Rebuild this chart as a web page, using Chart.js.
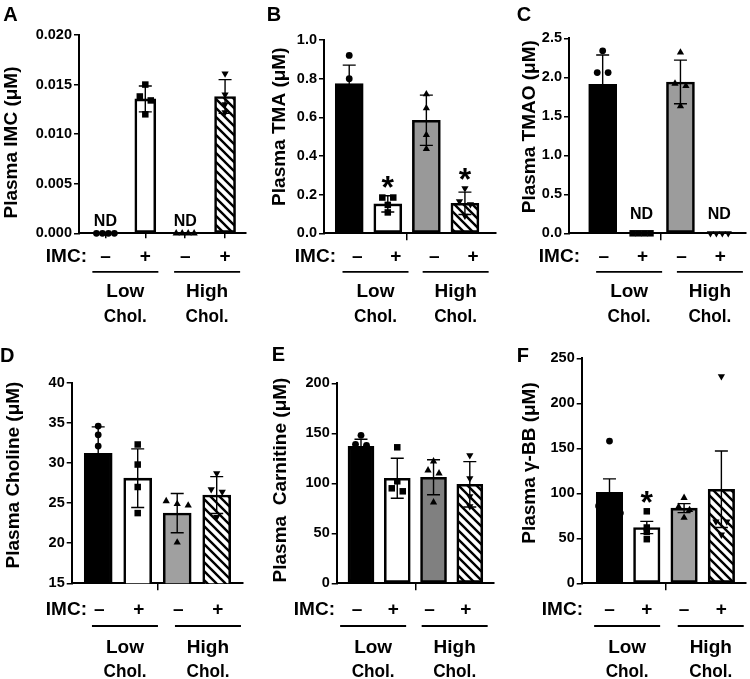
<!DOCTYPE html>
<html>
<head>
<meta charset="utf-8">
<script src="https://cdn.jsdelivr.net/npm/chart.js@4.4.1/dist/chart.umd.min.js"></script>
<style>
  html, body { margin: 0; padding: 0; background: #fff; }
  #fig { position: relative; width: 750px; height: 679px; overflow: hidden; }
  #fig canvas { position: absolute; }
</style>
</head>
<body>
<div id="fig"></div>
<script>
/* eslint-disable no-undef */

// x categories: IMC treatment within each cholesterol diet
const imcSigns = ['–', '+', '–', '+']
const cholGroups = ['Low', 'High']

// A - plasma IMC (ND = not detected)
const imcMean = [null, 0.01355, null, 0.0138]
const imcSd = [null, 0.0013, null, 0.0017]
const imcPts = [
  [0, 0, 0, 0],
  [0.0150, 0.0138, 0.0134, 0.0120],
  [0, 0, 0, 0],
  [0.0161, 0.0140, 0.0130, 0.0122]
]

// B - plasma TMA
const tmaMean = [0.775, 0.152, 0.585, 0.155]
const tmaSd = [0.095, 0.042, 0.13, 0.058]
const tmaPts = [
  [0.92, 0.80, 0.72, 0.66],
  [0.185, 0.185, 0.147, 0.108],
  [0.72, 0.647, 0.509, 0.436],
  [0.233, 0.165, 0.15, 0.09]
]
const tmaSig = [false, true, false, true]

// C - plasma TMAO
const tmaoMean = [1.91, null, 1.94, null]
const tmaoSd = [0.375, null, 0.28, null]
const tmaoPts = [
  [2.34, 2.06, 2.06, 1.18],
  [0, 0, 0, 0],
  [2.32, 1.92, 1.89, 1.63],
  [0, 0, 0, 0]
]

// D - plasma choline
const cholineMean = [31.2, 28.1, 23.75, 26.0]
const cholineSd = [3.3, 3.65, 2.45, 2.3]
const cholinePts = [
  [34.6, 33.5, 32.1, 24.6],
  [32.3, 29.8, 27.0, 23.75],
  [25.25, 24.9, 24.7, 20.1],
  [28.7, 26.7, 26.4, 23.25]
]

// E - plasma carnitine
const carnMean = [137, 105, 106, 99]
const carnSd = [7, 20, 17.5, 22.7]
const carnPts = [
  [148, 139, 138, 123],
  [136, 102, 95, 92],
  [122, 113, 110, 81],
  [128, 105, 87, 77]
]

// F - plasma gamma-butyrobetaine
const bbMean = [101, 62, 83.5, 104.5]
const bbSem = [15, 6.8, 5, 42.5]
const bbPts = [
  [158, 86, 82, 78],
  [80, 62, 57, 49],
  [95, 85, 81.5, 73],
  [230, 68.5, 68.5, 54]
]
const bbSig = [false, true, false, false]

const noSig = [false, false, false, false]

const FONT = '"Liberation Sans", Arial, Helvetica, sans-serif'
Chart.defaults.font.family = FONT
Chart.defaults.color = '#000'

const topRow = { imc: 28.8, line: 38.5, low: 25, chol: 50 }
const bottomRow = { imc: 31.8, line: 42.7, low: 27.3, chol: 50.7 }

const panels = [
  {
    letter: 'A', title: 'Plasma IMC (μM)', mean: imcMean, err: imcSd, pts: imcPts, sig: noSig,
    y: [0, 0.02, 0.005, 3], x: [0.3375, 4.51], gray: '#9c9c9c', barW: 21,
    box: [0, 0, 250, 340], area: [79, 35, 246, 233.3], xTicks: [1, 2, 3, 4], tickLen: 5,
    titleAt: [11.7, 142.5], letterAt: [3.3, 20.7], imcRight: 87, signDx: 0, lineDx: [0, 2],
    ndGap: 12, row: topRow
  },
  {
    letter: 'B', title: 'Plasma TMA (μM)', mean: tmaMean, err: tmaSd, pts: tmaPts, sig: tmaSig,
    y: [0, 1, 0.2, 1], x: [0.346, 4.79], gray: '#999999', barW: 28,
    box: [250, 0, 250, 340], area: [324, 40, 496, 233.3], xTicks: [2.5], tickLen: 7,
    titleAt: [30, 126.7], letterAt: [16.7, 20.7], imcRight: 86, signDx: 8, lineDx: [7, 10],
    ndGap: 12, row: topRow
  },
  {
    letter: 'C', title: 'Plasma TMAO (μM)', mean: tmaoMean, err: tmaoSd, pts: tmaoPts, sig: noSig,
    y: [0, 2.5, 0.5, 1], x: [0.134, 4.67], gray: '#9c9c9c', barW: 28,
    box: [500, 0, 250, 340], area: [569, 38.3, 747, 233.3], xTicks: [2.5], tickLen: 7,
    titleAt: [30, 126.7], letterAt: [16.7, 20.7], imcRight: 80, signDx: 1, lineDx: [7, 10],
    ndGap: 19, row: topRow
  },
  {
    letter: 'D', title: 'Plasma Choline (μM)', mean: cholineMean, err: cholineSd, pts: cholinePts, sig: noSig,
    y: [15, 40, 5, 0], x: [0.329, 4.658], gray: '#a0a0a0', barW: 28,
    box: [0, 340, 250, 339], area: [71.7, 382.7, 242.7, 583.3], xTicks: [2.5], tickLen: 7,
    titleAt: [13.3, 135], letterAt: [0, 21.7], imcRight: 87, signDx: 1, lineDx: [7, 11],
    ndGap: 12, row: bottomRow
  },
  {
    letter: 'E', title: 'Plasma  Carnitine (μM)', mean: carnMean, err: carnSd, pts: carnPts, sig: noSig,
    y: [0, 200, 50, 0], x: [0.33, 4.648], gray: '#808080', barW: 26,
    box: [250, 340, 250, 339], area: [336.7, 383.3, 493.3, 583.3], xTicks: [2.5], tickLen: 7,
    titleAt: [30.5, 140], letterAt: [21.7, 21], imcRight: 85, signDx: -4, lineDx: [-6, 3],
    ndGap: 12, row: bottomRow
  },
  {
    letter: 'F', title: 'Plasma γ-BB (μM)', mean: bbMean, err: bbSem, pts: bbPts, sig: bbSig,
    y: [0, 250, 50, 0], x: [0.255, 4.644], gray: '#a2a2a2', barW: 26.5,
    box: [500, 340, 250, 339], area: [581.7, 358.3, 746.7, 583.3], xTicks: [2.5], tickLen: 7,
    titleAt: [30, 123], letterAt: [16.7, 21.7], imcRight: 83, signDx: 0, lineDx: [-1, 8],
    ndGap: 12, row: bottomRow
  }
]

const shapes = ['circle', 'rect', 'triangle', 'triangle']
const shapeRot = [0, 0, 0, 180]
const shapeSize = [3.4, 4.6, 4.2, 4.2]

function makeHatch() {
  const c = document.createElement('canvas')
  c.width = 9
  c.height = 9
  const g = c.getContext('2d')
  g.fillStyle = '#fff'
  g.fillRect(0, 0, 9, 9)
  g.strokeStyle = '#000'
  g.lineWidth = 2.4
  g.beginPath()
  for (const o of [-9, 0, 9]) {
    g.moveTo(o - 1, -1)
    g.lineTo(o + 10, 10)
  }
  g.stroke()
  return g.createPattern(c, 'repeat')
}
const hatch = makeHatch()

// spread points of near-equal value side by side, like a column scatter
function spread(vals, center, pxPerY, pxPerX) {
  const order = vals.map((v, i) => i).sort((a, b) => vals[b] - vals[a])
  const out = []
  let cluster = []
  const flush = () => {
    const gap = cluster.length > 3 ? 6 : 11
    cluster.forEach((idx, k) => {
      const dx = (k - (cluster.length - 1) / 2) * gap
      out.push({ x: center + dx / pxPerX, y: vals[idx] })
    })
    cluster = []
  }
  order.forEach((idx) => {
    const last = cluster[cluster.length - 1]
    if (cluster.length && (vals[last] - vals[idx]) * pxPerY > 4) flush()
    cluster.push(idx)
  })
  flush()
  return out
}

const bold = (s) => `bold ${s}px ${FONT}`

function makeOverlay(p) {
  return {
    id: 'overlay' + p.letter,
    afterDatasetDraw(chart, args) {
      if (args.meta.type !== 'bar') return
      const { ctx, scales: { x, y } } = chart
      ctx.save()
      ctx.strokeStyle = '#000'
      ctx.lineWidth = 1.4
      p.mean.forEach((m, i) => {
        if (m === null) return
        const cx = x.getPixelForValue(i + 1)
        const top = y.getPixelForValue(m + p.err[i])
        const bot = y.getPixelForValue(Math.max(m - p.err[i], p.y[0]))
        ctx.beginPath()
        ctx.moveTo(cx, top)
        ctx.lineTo(cx, bot)
        ctx.moveTo(cx - 6.5, top)
        ctx.lineTo(cx + 6.5, top)
        ctx.moveTo(cx - 6.5, bot)
        ctx.lineTo(cx + 6.5, bot)
        ctx.stroke()
      })
      ctx.restore()
    },
    afterDraw(chart) {
      const { ctx, chartArea, scales: { x, y } } = chart
      ctx.save()
      ctx.fillStyle = '#000'
      ctx.strokeStyle = '#000'

      // panel letter
      ctx.font = bold(20)
      ctx.textAlign = 'left'
      ctx.textBaseline = 'alphabetic'
      ctx.fillText(p.letter, p.letterAt[0], p.letterAt[1])

      // y axis title
      ctx.save()
      ctx.translate(p.titleAt[0], p.titleAt[1])
      ctx.rotate(-Math.PI / 2)
      ctx.font = bold(19)
      ctx.textAlign = 'center'
      ctx.textBaseline = 'middle'
      ctx.fillText(p.title, 0, 0)
      ctx.restore()

      // ND labels and significance stars
      p.mean.forEach((m, i) => {
        const cx = x.getPixelForValue(i + 1)
        if (m === null) {
          ctx.font = bold(16)
          ctx.textAlign = 'center'
          ctx.textBaseline = 'middle'
          ctx.fillText('ND', cx, y.getPixelForValue(0) - p.ndGap)
        } else if (p.sig[i]) {
          const top = Math.max(m + p.err[i], ...p.pts[i])
          const target = y.getPixelForValue(top) - 14
          ctx.font = bold(32)
          ctx.textAlign = 'center'
          ctx.textBaseline = 'alphabetic'
          const mt = ctx.measureText('*')
          const base = target + (mt.actualBoundingBoxAscent - mt.actualBoundingBoxDescent) / 2
          ctx.fillText('*', cx, base)
        }
      })

      // IMC row
      const b = chartArea.bottom
      ctx.font = bold(19)
      ctx.textBaseline = 'alphabetic'
      ctx.textAlign = 'right'
      ctx.fillText('IMC:', p.imcRight, b + p.row.imc)
      ctx.textAlign = 'center'
      imcSigns.forEach((s, i) => {
        ctx.fillText(s, x.getPixelForValue(i + 1) + p.signDx, b + p.row.imc)
      })

      // diet group lines and labels
      ctx.lineWidth = 1.8
      cholGroups.forEach((g, k) => {
        const mid = (x.getPixelForValue(2 * k + 1) + x.getPixelForValue(2 * k + 2)) / 2 + p.lineDx[k]
        const ly = b + p.row.line
        ctx.beginPath()
        ctx.moveTo(mid - 33, ly)
        ctx.lineTo(mid + 33, ly)
        ctx.stroke()
        ctx.fillText(g, mid, ly + p.row.low)
        ctx.fillText('Chol.', mid, ly + p.row.chol, 43)
      })
      ctx.restore()
    }
  }
}

function drawPanel(p) {
  const [bx, by, bw, bh] = p.box
  const [al, at, ar, ab] = p.area
  const canvas = document.createElement('canvas')
  canvas.width = bw
  canvas.height = bh
  canvas.style.left = bx + 'px'
  canvas.style.top = by + 'px'
  document.getElementById('fig').appendChild(canvas)

  const yW = al - bx
  const xH = by + bh - ab
  const pxPerX = (ar - al) / (p.x[1] - p.x[0])
  const pxPerY = (ab - at) / (p.y[1] - p.y[0])
  const fills = ['#000', '#fff', p.gray, hatch]

  const datasets = [
    {
      type: 'bar',
      data: p.mean.map((m, i) => ({ x: i + 1, y: m })),
      backgroundColor: fills,
      borderColor: '#000',
      borderWidth: 2.6,
      borderSkipped: false,
      barThickness: p.barW,
      order: 2
    }
  ]
  p.pts.forEach((vals, i) => {
    datasets.push({
      type: 'scatter',
      data: spread(vals, i + 1, pxPerY, pxPerX),
      pointStyle: shapes[i],
      pointRotation: shapeRot[i],
      pointRadius: shapeSize[i],
      pointBackgroundColor: '#000',
      pointBorderWidth: 0,
      clip: false,
      order: 1
    })
  })

  return new Chart(canvas, {
    type: 'bar',
    data: { datasets },
    options: {
      responsive: false,
      animation: false,
      devicePixelRatio: 1,
      layout: { padding: { left: 0, top: at - by, right: bx + bw - ar, bottom: 0 } },
      plugins: { legend: { display: false }, tooltip: { enabled: false } },
      scales: {
        x: {
          type: 'linear',
          min: p.x[0],
          max: p.x[1],
          offset: false,
          afterBuildTicks: (s) => { s.ticks = p.xTicks.map((v) => ({ value: v })) },
          afterFit: (s) => { s.height = xH },
          ticks: { display: false },
          grid: { offset: false, drawOnChartArea: false, drawTicks: true, tickLength: p.tickLen, color: '#000', lineWidth: 1.5 },
          border: { color: '#000', width: 2 }
        },
        y: {
          min: p.y[0],
          max: p.y[1],
          afterFit: (s) => { s.width = yW },
          ticks: {
            stepSize: p.y[2],
            padding: 2,
            color: '#000',
            font: { size: 14.5, weight: 'bold' },
            callback: (v) => Number(v).toFixed(p.y[3])
          },
          grid: { drawOnChartArea: false, drawTicks: true, tickLength: 5, color: '#000', lineWidth: 1.5 },
          border: { color: '#000', width: 2 }
        }
      }
    },
    plugins: [makeOverlay(p)]
  })
}

panels.forEach(drawPanel)
</script>
</body>
</html>
